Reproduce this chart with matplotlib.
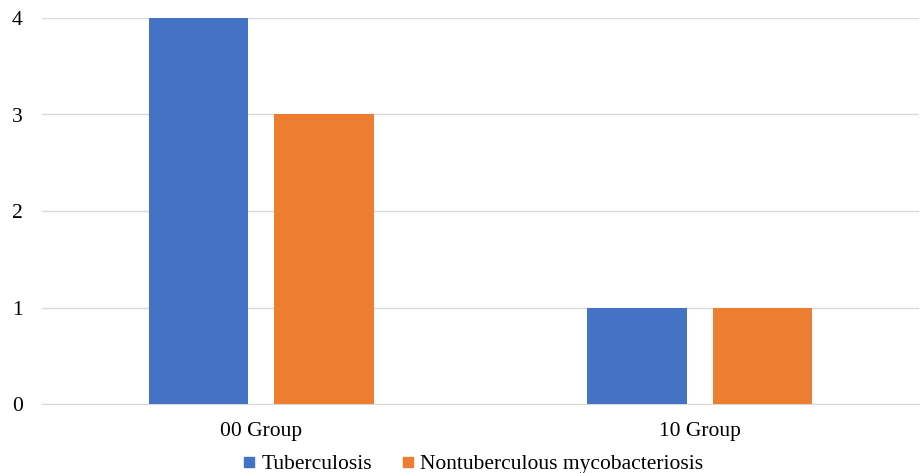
import matplotlib.pyplot as plt
import numpy as np
from matplotlib.lines import Line2D

groups = ["00 Group", "10 Group"]
series_names = ["Tuberculosis", "Nontuberculous mycobacteriosis"]
tuberculosis = [4, 1]
ntm = [3, 1]
colors = ["#4472C4", "#ED7D31"]

plt.rcParams["font.family"] = ["Liberation Serif", "DejaVu Serif"]


def main() -> None:
    fig = plt.figure(figsize=(9.23, 4.73), dpi=100)
    ax = fig.add_axes([42 / 923, 1 - 404 / 473, (919 - 42) / 923, (404 - 18) / 473])

    x = np.arange(len(groups))
    width = 0.226
    offset = 0.143
    ax.bar(x - offset, tuberculosis, width=width, color=colors[0], zorder=3)
    ax.bar(x + offset, ntm, width=width, color=colors[1], zorder=3)

    ax.set_xlim(-0.5, len(groups) - 0.5)
    ax.set_ylim(0, 4)
    ax.set_yticks(range(0, 5))
    ax.set_xticks(x)
    ax.set_xticklabels(groups)
    ax.tick_params(axis="both", length=0, labelsize=15.5, colors="#000000")
    ax.tick_params(axis="x", pad=13)
    ax.tick_params(axis="y", pad=14)

    ax.grid(axis="y", color="#d9d9d9", linewidth=1, zorder=0)
    for side in ["top", "right", "left"]:
        ax.spines[side].set_visible(False)
    ax.spines["bottom"].set_color("#d9d9d9")

    handles = [
        Line2D([], [], marker="s", linestyle="none", markersize=7, color=c)
        for c in colors
    ]
    fig.legend(
        handles,
        series_names,
        loc="center",
        bbox_to_anchor=(472 / 923, 1 - 464 / 473),
        ncol=2,
        frameon=False,
        fontsize=15.5,
        handletextpad=0.15,
        columnspacing=1.3,
        handlelength=0.8,
    )

    fig.savefig("out.png", dpi=100)
    plt.close(fig)


if __name__ == "__main__":
    main()
